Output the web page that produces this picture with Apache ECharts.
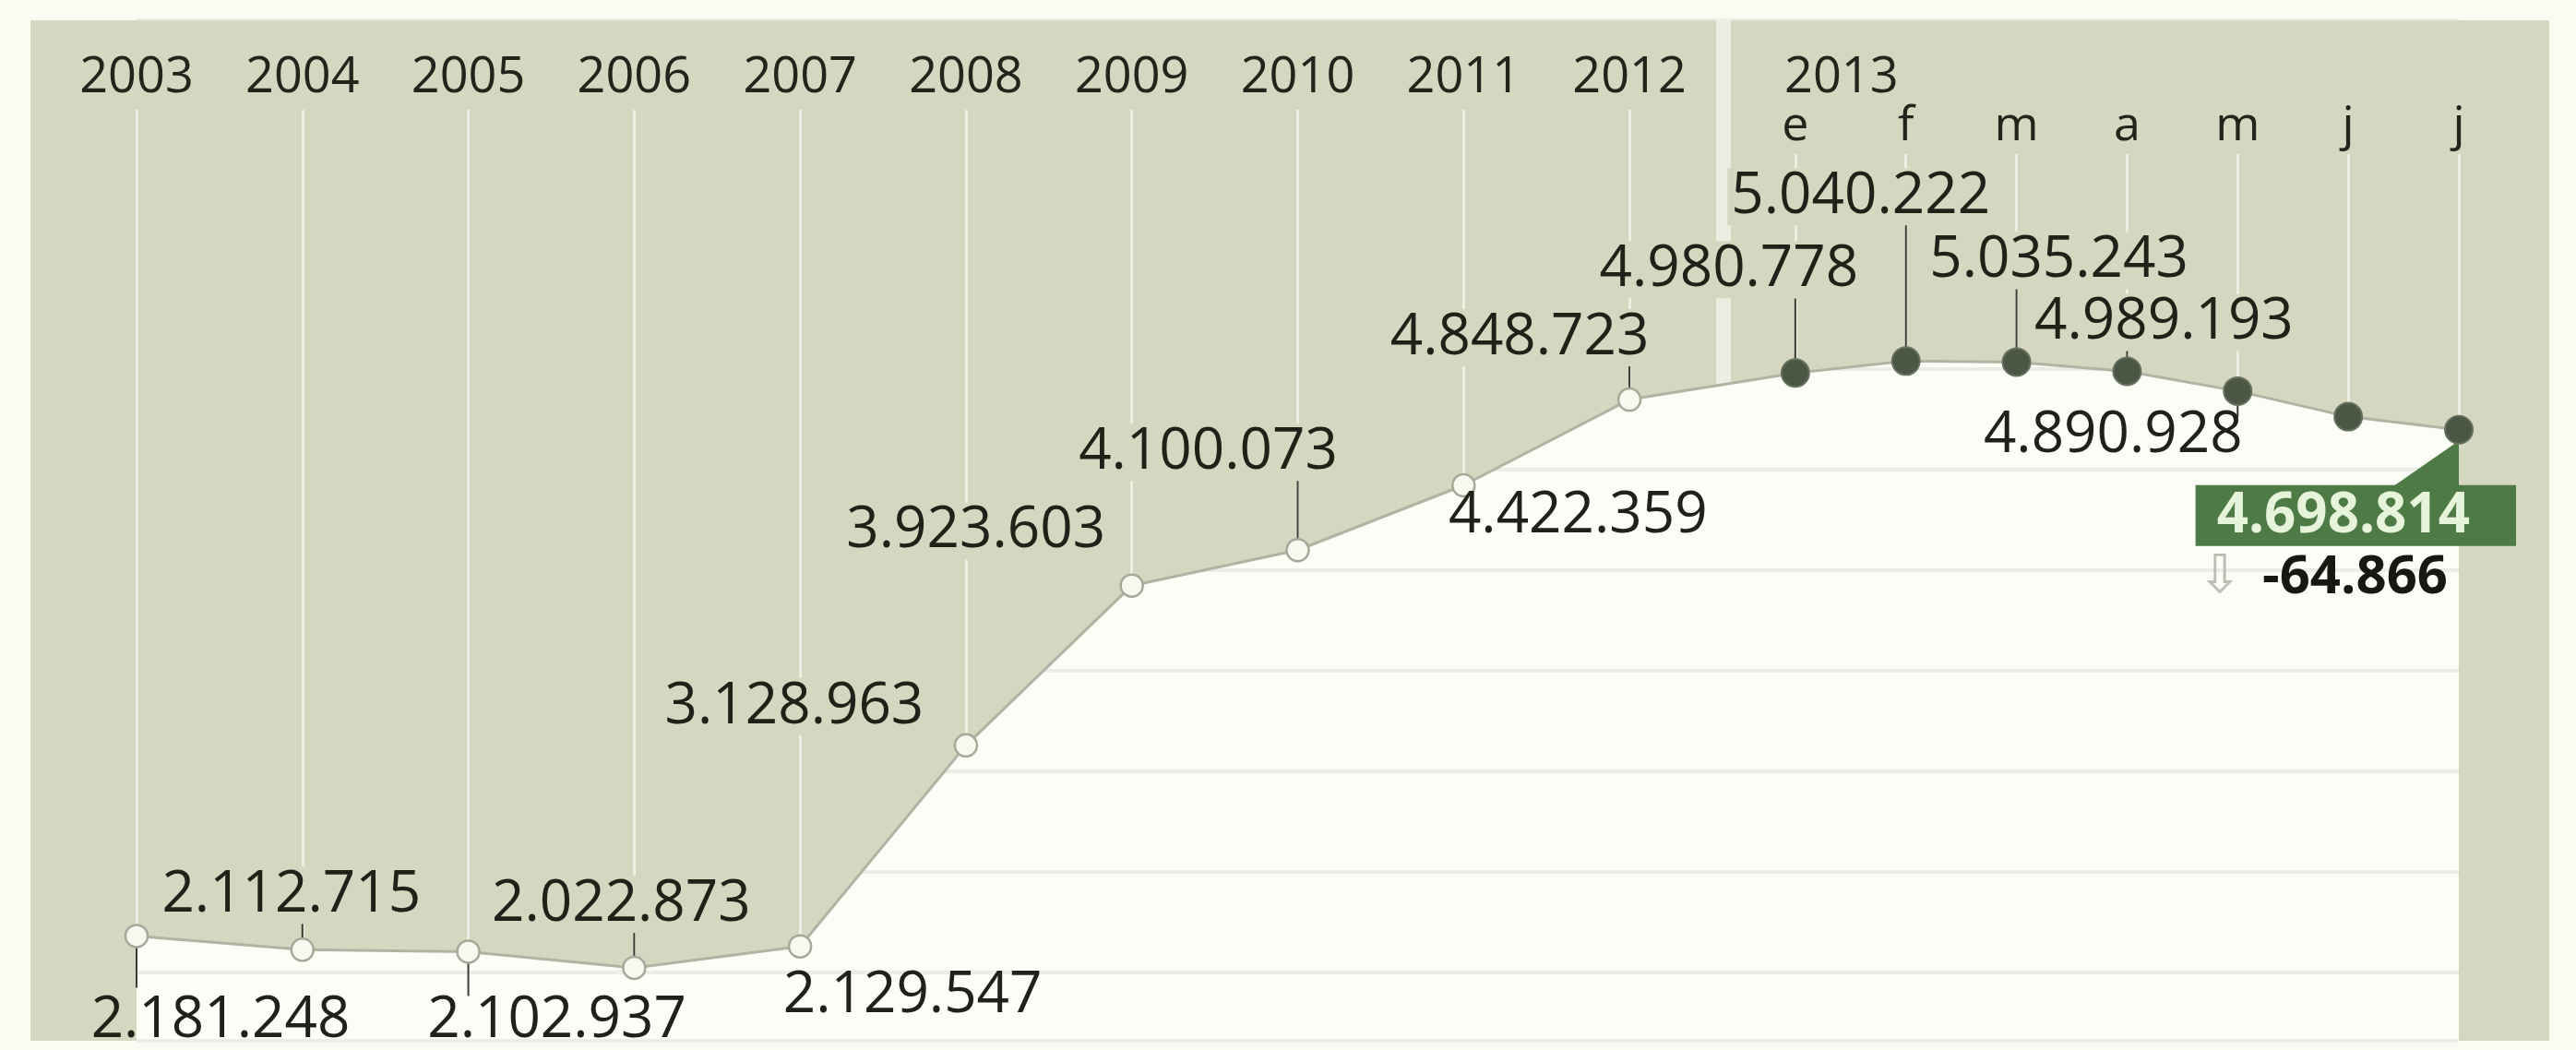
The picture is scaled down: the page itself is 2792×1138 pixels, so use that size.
<!DOCTYPE html>
<html>
<head>
<meta charset="utf-8">
<script src="https://cdn.jsdelivr.net/npm/echarts@6.0.0/dist/echarts.min.js"></script>
<style>
  html, body { margin: 0; padding: 0; width: 2792px; height: 1138px; background: #fafbf2; overflow: hidden; }
  #panel { position: absolute; left: 33px; top: 22px; width: 2730px; height: 1106px; background: #d5d7c0; }
  #chart { position: absolute; left: 0; top: 0; width: 2792px; height: 1138px; }
</style>
</head>
<body>
<div id="panel"></div>
<div id="chart"></div>
<script>
// ---------------- data ----------------
const years = ['2003', '2004', '2005', '2006', '2007', '2008', '2009', '2010', '2011', '2012'];
const yearValues = [2181248, 2112715, 2102937, 2022873, 2129547, 3128963, 3923603, 4100073, 4422359, 4848723];
const monthYear = '2013';
const months = ['e', 'f', 'm', 'a', 'm', 'j', 'j'];
const monthValues = [4980778, 5040222, 5035243, 4989193, 4890928, 4763680, 4698814];
const lastChange = -64866;

// ---------------- layout / style (not data) ----------------
const YEAR_STEP = 3, GAP_STEP = 3, MONTH_STEP = 2;
const yearSlot = i => i * YEAR_STEP;
const monthSlot = j => yearSlot(years.length - 1) + GAP_STEP + j * MONTH_STEP;
const X_MAX = monthSlot(months.length - 1);
const SEPARATOR_FRACTION = 1.7 / GAP_STEP;
const SEPARATOR_SLOT = yearSlot(years.length - 1) + GAP_STEP * SEPARATOR_FRACTION;
const Y_MIN = 1660000, Y_MAX = 6735000;
const YEAR_GUIDE_TOP = 6290000, MONTH_GUIDE_TOP = 6070000;

const BEIGE = '#d5d7c0';
const GREEN = '#4e7a45';
const TEXT = '#202219';

const yearLabelOffsets = [[91, 92], [-12, -59], [96, 75], [-14, -69], [122, 54], [-186, -42], [-169, -59], [-97, -106], [124, 33], [-119, -67]];
const yearLeaders = [56, -29, 48, -44, 0, 0, 0, -79, 0, -38];
const yearLabelOnBeige = [false, true, false, true, false, true, true, true, false, true];
const monthLabelOffsets = [[-72, -112], [-49, -178], [46, -110], [40, -53], [-135, 48], null, null];
const monthLeaders = [-81, -148, -87, -27, 28, 0, 0];
const monthLabelOnBeige = [true, true, true, true, false, false, false];

const fmt = n => (n < 0 ? '-' : '') + String(Math.abs(n)).replace(/\B(?=(\d{3})+(?!\d))/g, '.');

// ---------------- build series data ----------------
const points = [];
years.forEach((y, i) => points.push([yearSlot(i), yearValues[i]]));
months.forEach((m, j) => points.push([monthSlot(j), monthValues[j]]));
const leaders = yearLeaders.concat(monthLeaders);
const lastIdx = points.length - 1;

const lineData = points.map((p, k) => {
  const isYear = k < years.length;
  const item = { value: p };
  if (isYear) {
    item.symbolSize = 24;
    item.itemStyle = { color: '#f7f8f0', borderColor: '#a6a898', borderWidth: 2.5 };
    item.label = { show: true, offset: yearLabelOffsets[k], backgroundColor: yearLabelOnBeige[k] ? BEIGE : 'transparent' };
  } else {
    const j = k - years.length;
    item.symbolSize = 30;
    item.itemStyle = { color: '#4b5645', borderColor: '#667160', borderWidth: 2 };
    if (k === lastIdx) {
      item.label = {
        show: true, align: 'right', verticalAlign: 'top', offset: [62, 61],
        backgroundColor: 'transparent', padding: 0,
        formatter: '{val|' + fmt(monthValues[j]) + '}\n{arr|\u21E9}{chg|' + fmt(lastChange) + '}',
        rich: {
          val: { fontFamily: 'Open Sans', fontSize: 60, fontWeight: 'bold', color: '#e6f4dc', backgroundColor: GREEN, padding: [4, 50, 2, 23], lineHeight: 64 },
          arr: { fontFamily: 'DejaVu Sans', fontSize: 58, color: '#bcbeb3', align: 'right', padding: [0, 22, 0, 0], lineHeight: 72 },
          chg: { fontFamily: 'Open Sans', fontSize: 58, fontWeight: 'bold', color: '#17180f', align: 'right', padding: [0, 74, 0, 0], lineHeight: 72 }
        }
      };
    } else if (monthLabelOffsets[j]) {
      item.label = { show: true, offset: monthLabelOffsets[j], backgroundColor: monthLabelOnBeige[j] ? BEIGE : 'transparent' };
    } else {
      item.label = { show: false };
    }
  }
  return item;
});

// vertical white guides from each point up to the label row, plus the 2012/2013 separator
const guideData = points.map((p, k) => [
  { coord: [p[0], p[1]] },
  { coord: [p[0], k < years.length ? YEAR_GUIDE_TOP : MONTH_GUIDE_TOP] }
]);
const lastYearVal = yearValues[years.length - 1];
const separatorBottom = lastYearVal + (monthValues[0] - lastYearVal) * SEPARATOR_FRACTION;
guideData.push([
  { coord: [SEPARATOR_SLOT, separatorBottom], lineStyle: { width: 16, color: '#eceee1' } },
  { coord: [SEPARATOR_SLOT, Y_MAX] }
]);

const slotToYear = {};
years.forEach((y, i) => { slotToYear[yearSlot(i)] = y; });
const slotToMonth = {};
months.forEach((m, j) => { slotToMonth[monthSlot(j)] = m; });

const chart = echarts.init(document.getElementById('chart'), null, { renderer: 'canvas' });
chart.setOption({
  animation: false,
  backgroundColor: 'transparent',
  grid: { left: 148, right: 127, top: 22, bottom: 10, show: true, backgroundColor: '#fdfdf8', borderWidth: 0, containLabel: false, outerBoundsMode: 'none' },
  xAxis: [
    {
      type: 'value', min: 0, max: X_MAX, position: 'top', z: 5,
      axisLine: { show: false }, axisTick: { show: false }, splitLine: { show: false },
      axisLabel: {
        inside: true, margin: 33,
        customValues: years.map((y, i) => yearSlot(i)).concat([monthSlot(0)]),
        formatter: v => {
          const k = Math.round(v);
          if (k === monthSlot(0)) return '{yr|' + monthYear + '}';
          return '{y|' + slotToYear[k] + '}';
        },
        rich: {
          y: { fontFamily: 'Open Sans', fontSize: 54, color: '#23241c', lineHeight: 60 },
          yr: { fontFamily: 'Open Sans', fontSize: 54, color: '#23241c', lineHeight: 60, padding: [0, 0, 0, 100] }
        }
      }
    },
    {
      type: 'value', min: 0, max: X_MAX, position: 'top', z: 5,
      axisLine: { show: false }, axisTick: { show: false }, splitLine: { show: false },
      axisLabel: {
        inside: true, margin: 85,
        customValues: months.map((m, j) => monthSlot(j)),
        formatter: v => slotToMonth[Math.round(v)] || '',
        fontFamily: 'Open Sans', fontSize: 52, color: '#23241c', lineHeight: 60
      }
    }
  ],
  yAxis: {
    type: 'value', min: Y_MIN, max: Y_MAX, splitNumber: 10,
    axisLabel: { show: false }, axisLine: { show: false }, axisTick: { show: false },
    splitLine: { lineStyle: { color: '#edede8', width: 4 } }
  },
  series: [
    {
      name: 'fondo', type: 'line', z: 2, silent: true, data: points,
      symbol: 'none', lineStyle: { width: 0 },
      areaStyle: { color: BEIGE, opacity: 1, origin: 'end' },
      markLine: {
        silent: true, z: 3, symbol: ['none', 'none'], animation: false,
        label: { show: false },
        lineStyle: { color: '#edefe2', width: 3, type: 'solid' },
        emphasis: { disabled: true },
        data: guideData
      }
    },
    {
      name: 'guias', type: 'custom', z: 4, silent: true, data: points,
      renderItem: (params, api) => {
        const len = leaders[params.dataIndex];
        if (!len) return null;
        const p = api.coord([api.value(0), api.value(1)]);
        return { type: 'line', shape: { x1: p[0], y1: p[1], x2: p[0], y2: p[1] + len }, style: { stroke: '#3a3c33', lineWidth: 2 } };
      }
    },
    {
      name: 'Paro registrado', type: 'line', z: 6, data: lineData,
      symbol: 'circle', showAllSymbol: true,
      lineStyle: { color: '#b1b3a3', width: 3 },
      label: {
        show: true, position: 'inside', fontFamily: 'Open Sans', fontSize: 62, color: TEXT,
        textBorderWidth: 0, textBorderColor: 'transparent', padding: [0, 4],
        formatter: p => fmt(p.value[1])
      },
      emphasis: { disabled: true },
      markPoint: {
        silent: true, z: 6,
        symbol: 'path://M0,50 L72,50 L72,0 Z', symbolSize: [72, 50], symbolOffset: [-36, 37],
        itemStyle: { color: GREEN }, label: { show: false },
        data: [{ coord: points[lastIdx] }]
      }
    }
  ]
});
</script>
</body>
</html>
